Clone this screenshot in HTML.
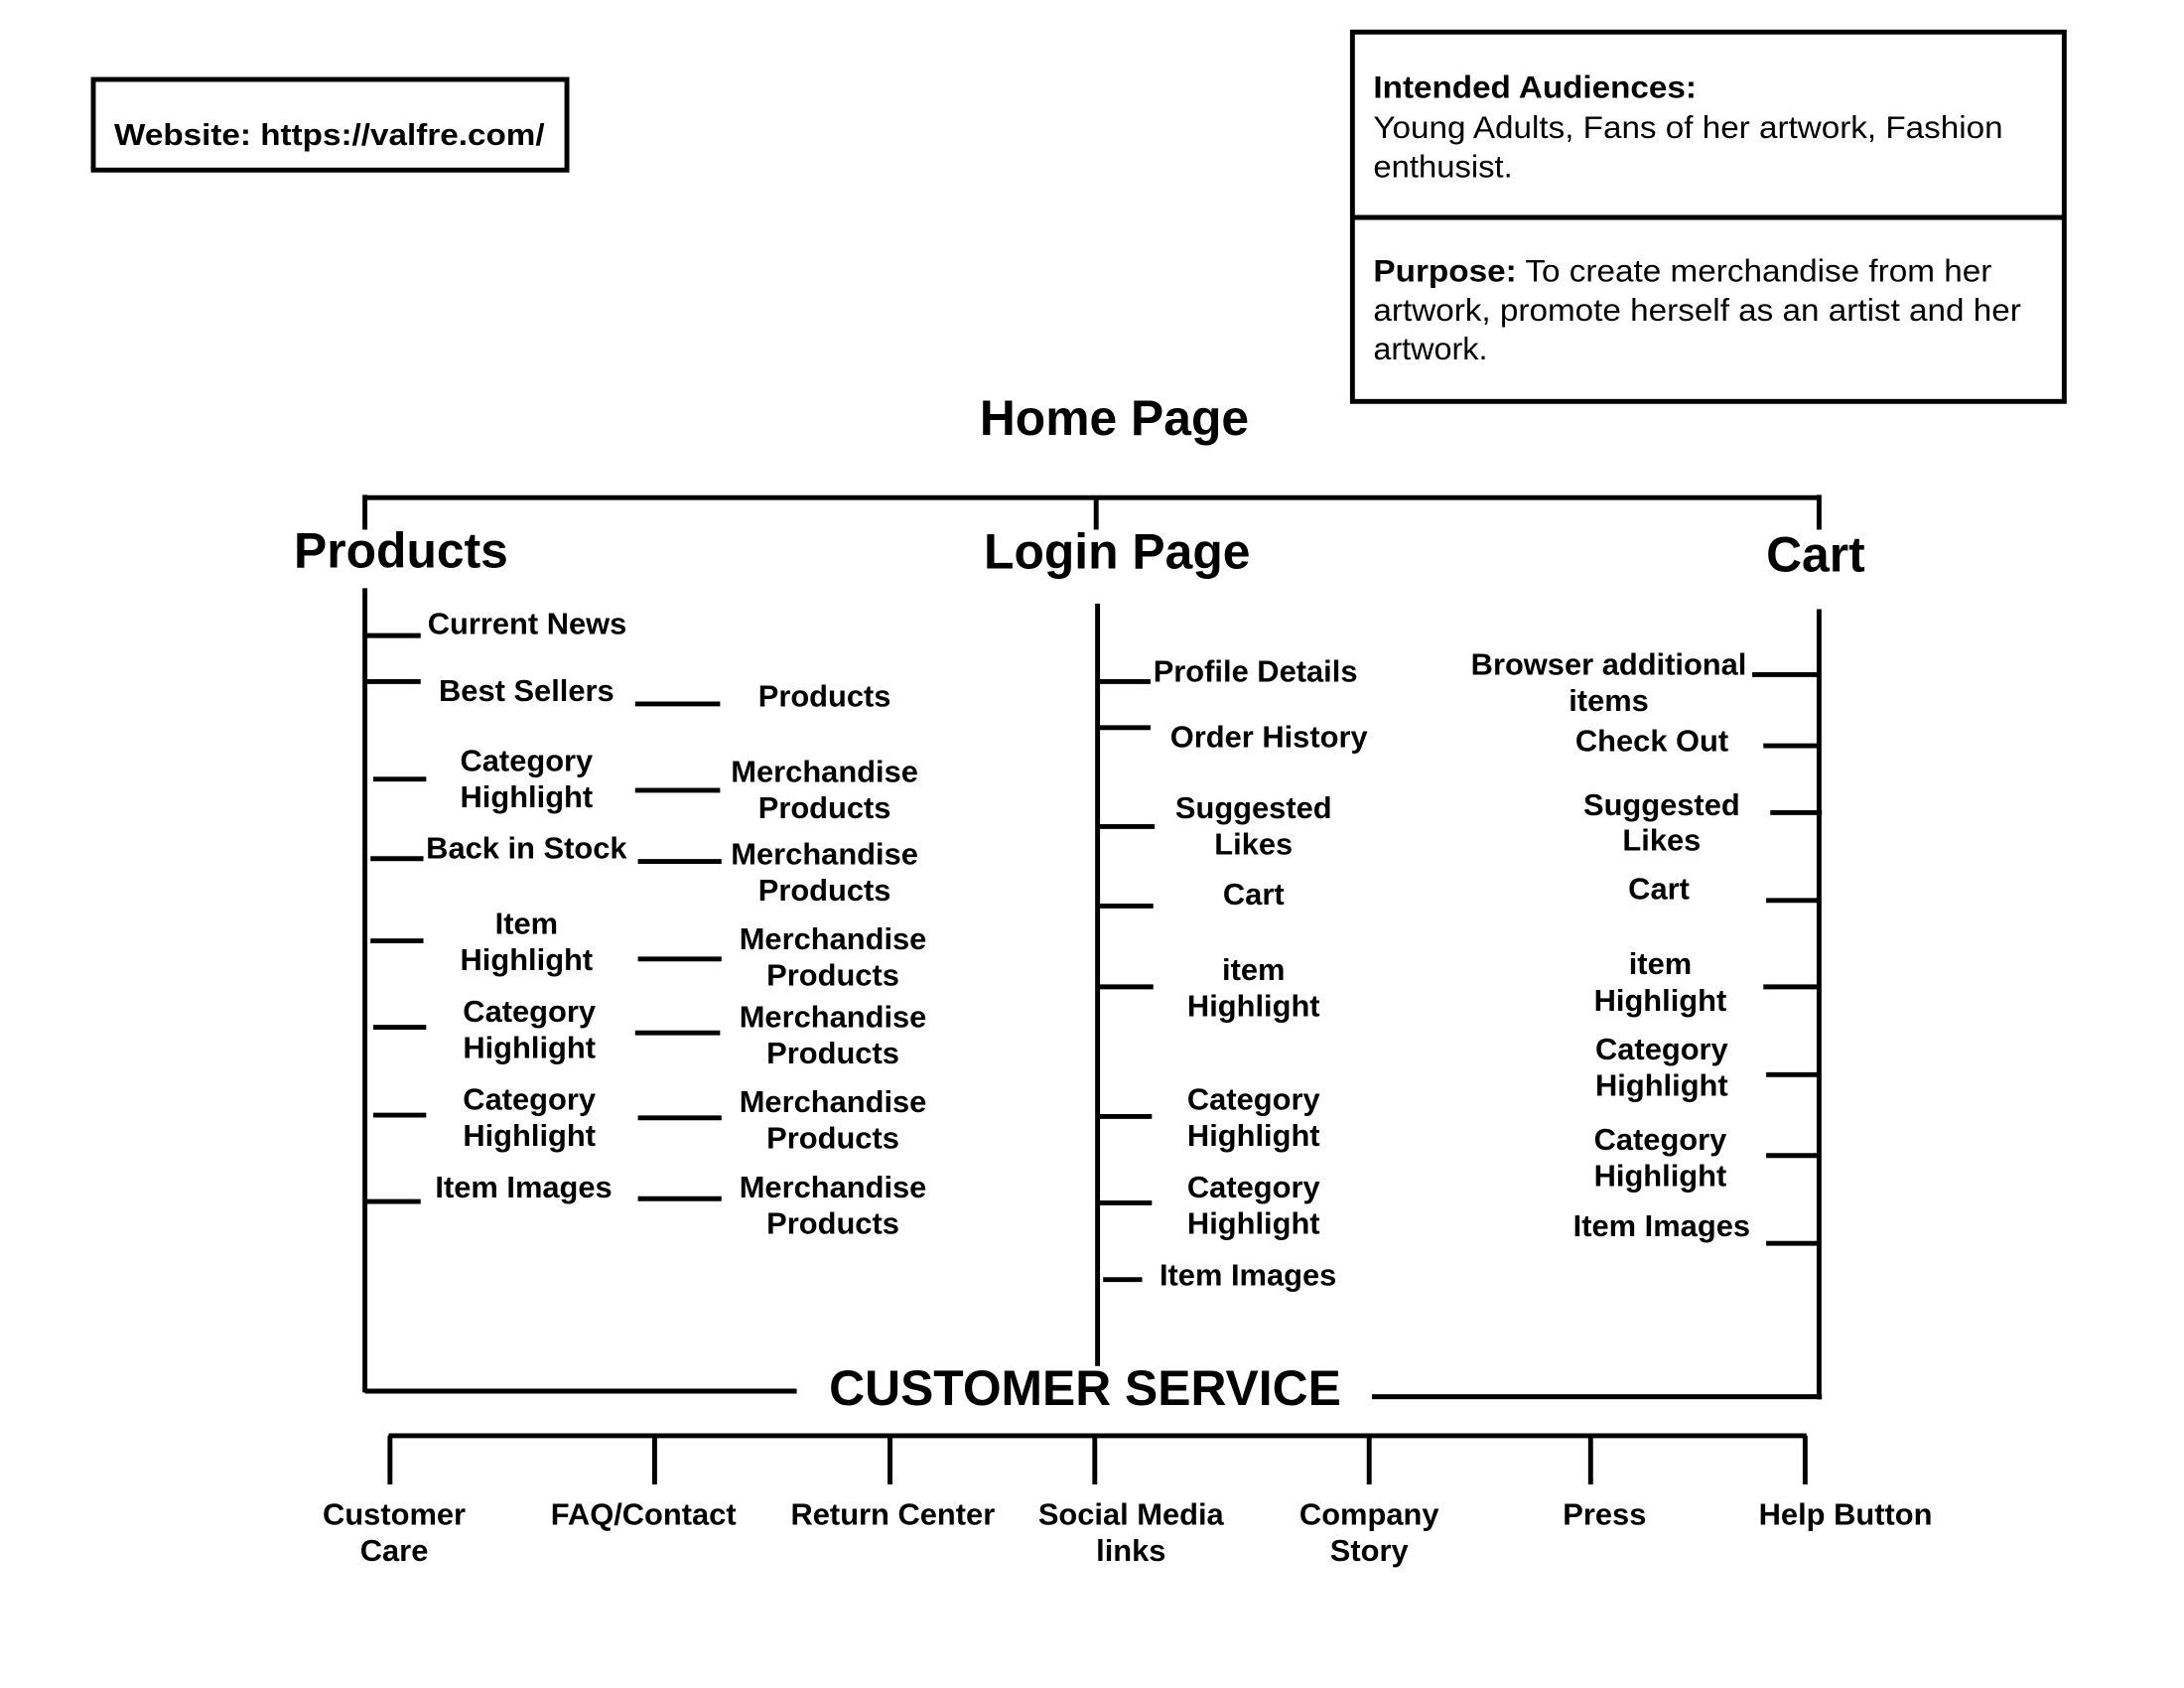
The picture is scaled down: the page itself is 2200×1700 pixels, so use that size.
<!DOCTYPE html>
<html><head><meta charset="utf-8"><style>
html,body{margin:0;padding:0;background:#fff;}
svg{display:block;}
text{font-family:"Liberation Sans",Arial,sans-serif;fill:#000;}
.b{font-weight:bold;font-size:22px;}
.n{font-size:22.5px;}
.h{font-weight:bold;font-size:35.5px;}
.c{text-anchor:middle;}
line,rect{stroke:#000;stroke-width:3.5;fill:none;}
</style></head><body>
<svg width="2200" height="1700" viewBox="0 0 1568 1211" preserveAspectRatio="none" xmlns="http://www.w3.org/2000/svg">
<rect x="67" y="57" width="340" height="65" stroke-width="2.5"/>
<text class="b" x="82" y="104" textLength="309" lengthAdjust="spacingAndGlyphs">Website: https://valfre.com/</text>
<rect x="971" y="23" width="511" height="265" stroke-width="2.5"/>
<line x1="971" y1="156" x2="1482" y2="156" stroke-width="2.5"/>
<text class="n" x="986" y="70" font-weight="bold" textLength="232" lengthAdjust="spacingAndGlyphs">Intended Audiences:</text>
<text class="n" x="986" y="99" textLength="452" lengthAdjust="spacingAndGlyphs">Young Adults, Fans of her artwork, Fashion</text>
<text class="n" x="986" y="127" textLength="100" lengthAdjust="spacingAndGlyphs">enthusist.</text>
<text class="n" x="986" y="202" textLength="444" lengthAdjust="spacingAndGlyphs"><tspan font-weight="bold">Purpose:</tspan> To create merchandise from her</text>
<text class="n" x="986" y="230" textLength="465" lengthAdjust="spacingAndGlyphs">artwork, promote herself as an artist and her</text>
<text class="n" x="986" y="258" textLength="82" lengthAdjust="spacingAndGlyphs">artwork.</text>

<text class="h c" x="800" y="312">Home Page</text>
<line x1="262" y1="357" x2="1307" y2="357"/>
<line x1="262" y1="355" x2="262" y2="380"/>
<line x1="787" y1="357" x2="787" y2="380"/>
<line x1="1306" y1="355" x2="1306" y2="380"/>
<text class="h" x="211" y="407">Products</text>
<text class="h c" x="802" y="408">Login Page</text>
<text class="h" x="1268" y="410">Cart</text>

<line x1="262" y1="422" x2="262" y2="999"/>
<line x1="262" y1="998" x2="572" y2="998"/>
<text class="h c" x="779" y="1008">CUSTOMER SERVICE</text>
<line x1="985" y1="1002" x2="1308" y2="1002"/>
<line x1="1306" y1="437" x2="1306" y2="1004"/>
<line x1="788" y1="433" x2="788" y2="980"/>

<line x1="279" y1="1030" x2="1297" y2="1030"/>
<g>
<line x1="280" y1="1030" x2="280" y2="1065"/>
<line x1="470" y1="1030" x2="470" y2="1065"/>
<line x1="639" y1="1030" x2="639" y2="1065"/>
<line x1="786" y1="1030" x2="786" y2="1065"/>
<line x1="983" y1="1030" x2="983" y2="1065"/>
<line x1="1142" y1="1030" x2="1142" y2="1065"/>
<line x1="1296" y1="1030" x2="1296" y2="1065"/>
</g>
<text class="b c" x="283" y="1094">Customer</text><text class="b c" x="283" y="1120">Care</text>
<text class="b c" x="462" y="1094">FAQ/Contact</text>
<text class="b c" x="641" y="1094">Return Center</text>
<text class="b c" x="812" y="1094">Social Media</text><text class="b c" x="812" y="1120">links</text>
<text class="b c" x="983" y="1094">Company</text><text class="b c" x="983" y="1120">Story</text>
<text class="b c" x="1152" y="1094">Press</text>
<text class="b c" x="1325" y="1094">Help Button</text>

<line x1="262" y1="456" x2="302" y2="456"/>
<line x1="262" y1="489" x2="302" y2="489"/>
<line x1="268" y1="559" x2="306" y2="559"/>
<line x1="266" y1="616" x2="304" y2="616"/>
<line x1="266" y1="675" x2="304" y2="675"/>
<line x1="268" y1="737" x2="306" y2="737"/>
<line x1="268" y1="800" x2="306" y2="800"/>
<line x1="262" y1="862" x2="302" y2="862"/>
<text class="b" x="307" y="455">Current News</text>
<text class="b c" x="378" y="503">Best Sellers</text>
<text class="b c" x="378" y="553">Category</text><text class="b c" x="378" y="579">Highlight</text>
<text class="b c" x="378" y="616">Back in Stock</text>
<text class="b c" x="378" y="670">Item</text><text class="b c" x="378" y="696">Highlight</text>
<text class="b c" x="380" y="733">Category</text><text class="b c" x="380" y="759">Highlight</text>
<text class="b c" x="380" y="796">Category</text><text class="b c" x="380" y="822">Highlight</text>
<text class="b c" x="376" y="859">Item Images</text>

<line x1="456" y1="505" x2="517" y2="505"/>
<line x1="456" y1="567" x2="517" y2="567"/>
<line x1="458" y1="618" x2="518" y2="618"/>
<line x1="458" y1="688" x2="518" y2="688"/>
<line x1="456" y1="741" x2="517" y2="741"/>
<line x1="458" y1="802" x2="518" y2="802"/>
<line x1="458" y1="860" x2="518" y2="860"/>
<text class="b c" x="592" y="507">Products</text>
<text class="b c" x="592" y="561">Merchandise</text><text class="b c" x="592" y="587">Products</text>
<text class="b c" x="592" y="620">Merchandise</text><text class="b c" x="592" y="646">Products</text>
<text class="b c" x="598" y="681">Merchandise</text><text class="b c" x="598" y="707">Products</text>
<text class="b c" x="598" y="737">Merchandise</text><text class="b c" x="598" y="763">Products</text>
<text class="b c" x="598" y="798">Merchandise</text><text class="b c" x="598" y="824">Products</text>
<text class="b c" x="598" y="859">Merchandise</text><text class="b c" x="598" y="885">Products</text>

<line x1="788" y1="489" x2="826" y2="489"/>
<line x1="788" y1="522" x2="826" y2="522"/>
<line x1="788" y1="593" x2="829" y2="593"/>
<line x1="788" y1="650" x2="828" y2="650"/>
<line x1="788" y1="708" x2="828" y2="708"/>
<line x1="788" y1="801" x2="827" y2="801"/>
<line x1="788" y1="863" x2="827" y2="863"/>
<line x1="792" y1="918" x2="820" y2="918"/>
<text class="b" x="828" y="489">Profile Details</text>
<text class="b c" x="911" y="536">Order History</text>
<text class="b c" x="900" y="587">Suggested</text><text class="b c" x="900" y="613">Likes</text>
<text class="b c" x="900" y="649">Cart</text>
<text class="b c" x="900" y="703">item</text><text class="b c" x="900" y="729">Highlight</text>
<text class="b c" x="900" y="796">Category</text><text class="b c" x="900" y="822">Highlight</text>
<text class="b c" x="900" y="859">Category</text><text class="b c" x="900" y="885">Highlight</text>
<text class="b c" x="896" y="922">Item Images</text>

<line x1="1258" y1="484" x2="1306" y2="484"/>
<line x1="1266" y1="535" x2="1306" y2="535"/>
<line x1="1271" y1="583" x2="1308" y2="583"/>
<line x1="1268" y1="646" x2="1306" y2="646"/>
<line x1="1266" y1="708" x2="1306" y2="708"/>
<line x1="1268" y1="771" x2="1306" y2="771"/>
<line x1="1268" y1="829" x2="1306" y2="829"/>
<line x1="1268" y1="892" x2="1306" y2="892"/>
<text class="b c" x="1155" y="484">Browser additional</text><text class="b c" x="1155" y="510">items</text>
<text class="b c" x="1186" y="539">Check Out</text>
<text class="b c" x="1193" y="585">Suggested</text><text class="b c" x="1193" y="610">Likes</text>
<text class="b c" x="1191" y="645">Cart</text>
<text class="b c" x="1192" y="699">item</text><text class="b c" x="1192" y="725">Highlight</text>
<text class="b c" x="1193" y="760">Category</text><text class="b c" x="1193" y="786">Highlight</text>
<text class="b c" x="1192" y="825">Category</text><text class="b c" x="1192" y="851">Highlight</text>
<text class="b c" x="1193" y="887">Item Images</text>
</svg>
</body></html>
